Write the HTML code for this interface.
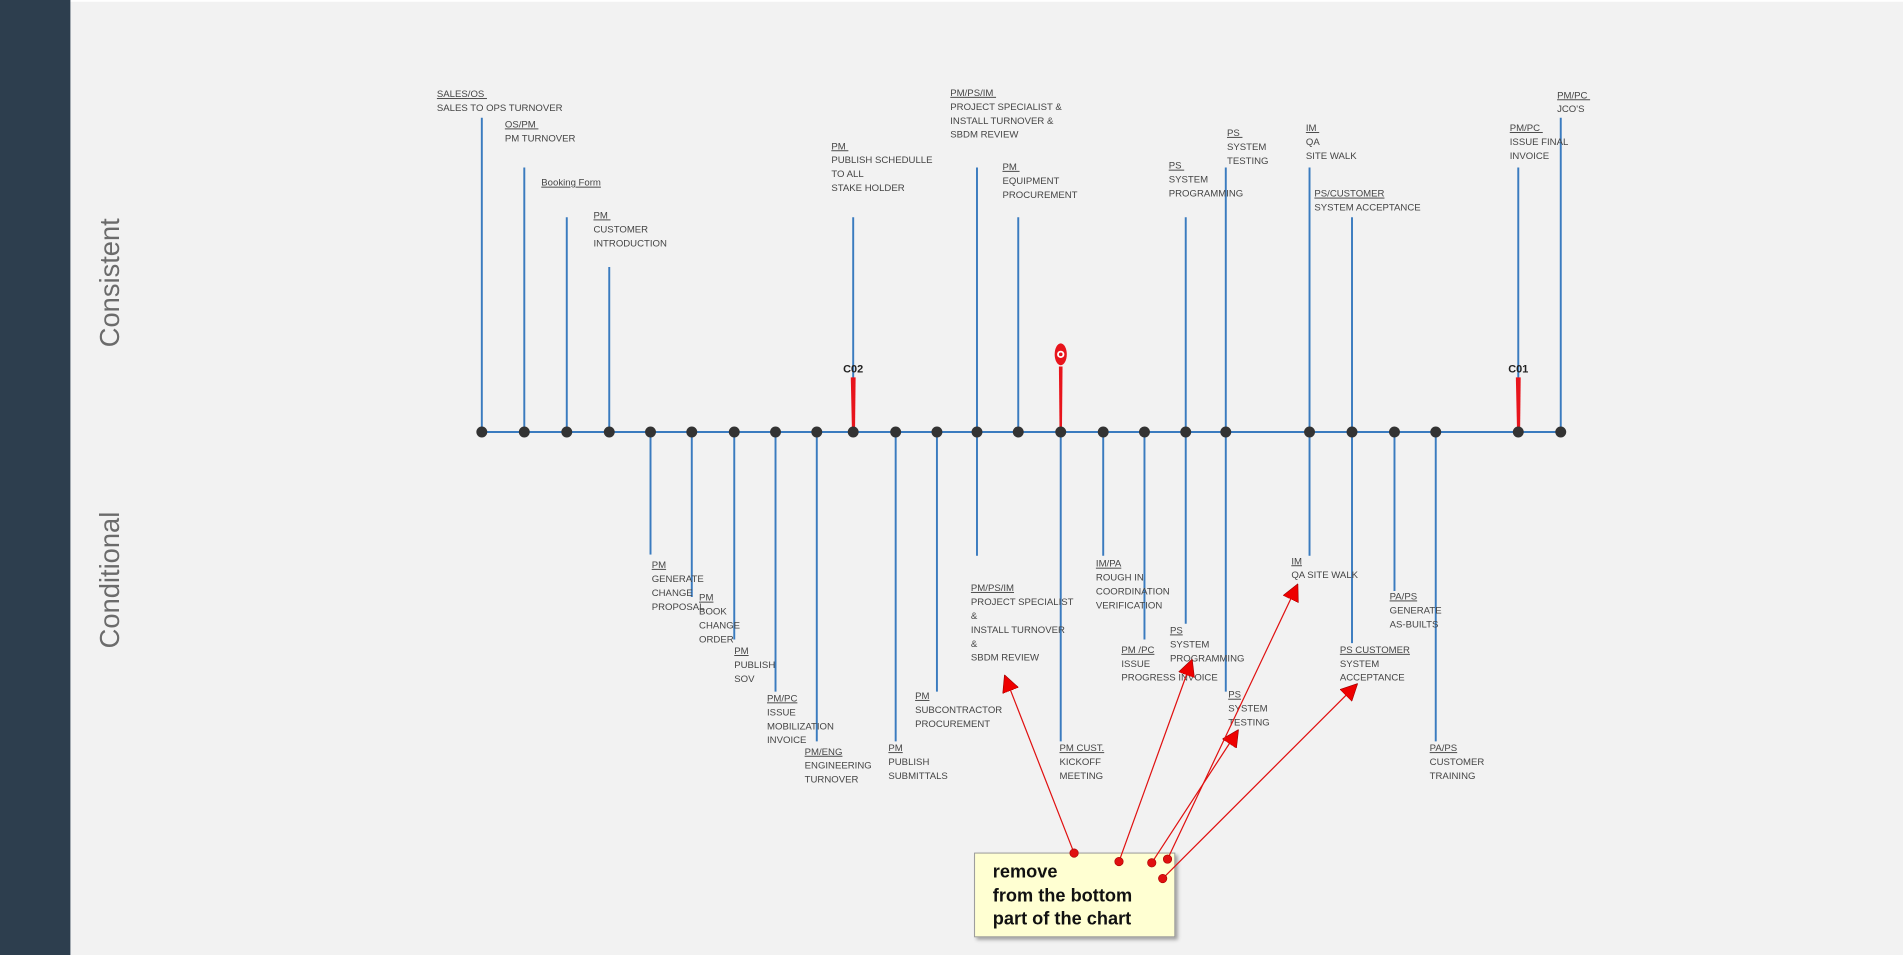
<!DOCTYPE html>
<html><head><meta charset="utf-8"><style>
html,body{margin:0;padding:0;background:#f2f2f2;width:1903px;height:955px;overflow:hidden}
svg{display:block}
.t{font-family:"Liberation Sans",sans-serif;font-size:7.9px;fill:#444}
.u{text-decoration:underline}
.side{font-family:"Liberation Sans",sans-serif;font-size:22.5px;fill:#6b6b6b}
.note{font-family:"Liberation Sans",sans-serif;font-size:15px;font-weight:bold;fill:#111}
</style></head><body>
<svg width="1903" height="955" viewBox="0 0 1568 787" preserveAspectRatio="none">
<defs>
<marker id="ah" markerWidth="14" markerHeight="14" refX="13" refY="7" orient="auto" markerUnits="userSpaceOnUse" viewBox="0 0 14 14"><path d="M0,0 L14,7 L0,14 z" fill="#e00" stroke="#900" stroke-width="0.5"/></marker>
<filter id="sh"><feDropShadow dx="2" dy="2" stdDeviation="1.5" flood-opacity="0.35"/></filter>
</defs>
<rect x="0" y="0" width="1568" height="787" fill="#f2f2f2"/>
<rect x="58" y="0" width="1510" height="1.5" fill="#fff"/>
<rect x="0" y="0" width="58" height="787" fill="#2d3e4e"/>
<text class="side" transform="translate(98,233) rotate(-90)" text-anchor="middle">Consistent</text>
<text class="side" transform="translate(98,478) rotate(-90)" text-anchor="middle">Conditional</text>

<g stroke="#3a7bbf" stroke-width="1.6">
<line x1="397" y1="356" x2="1286" y2="356"/>
<line x1="397" y1="97" x2="397" y2="356"/>
<line x1="432" y1="138" x2="432" y2="356"/>
<line x1="467" y1="179" x2="467" y2="356"/>
<line x1="502" y1="220" x2="502" y2="356"/>
<line x1="703" y1="179" x2="703" y2="356"/>
<line x1="805" y1="138" x2="805" y2="356"/>
<line x1="839" y1="179" x2="839" y2="356"/>
<line x1="977" y1="179" x2="977" y2="356"/>
<line x1="1010" y1="138" x2="1010" y2="356"/>
<line x1="1079" y1="138" x2="1079" y2="356"/>
<line x1="1114" y1="179" x2="1114" y2="356"/>
<line x1="1251" y1="138" x2="1251" y2="356"/>
<line x1="1286" y1="97" x2="1286" y2="356"/>
<line x1="536" y1="356" x2="536" y2="457"/>
<line x1="570" y1="356" x2="570" y2="492"/>
<line x1="605" y1="356" x2="605" y2="527"/>
<line x1="639" y1="356" x2="639" y2="570"/>
<line x1="673" y1="356" x2="673" y2="611"/>
<line x1="738" y1="356" x2="738" y2="611"/>
<line x1="772" y1="356" x2="772" y2="570"/>
<line x1="805" y1="356" x2="805" y2="458"/>
<line x1="874" y1="356" x2="874" y2="611"/>
<line x1="909" y1="356" x2="909" y2="458"/>
<line x1="943" y1="356" x2="943" y2="527"/>
<line x1="977" y1="356" x2="977" y2="514"/>
<line x1="1010" y1="356" x2="1010" y2="570"/>
<line x1="1079" y1="356" x2="1079" y2="458"/>
<line x1="1114" y1="356" x2="1114" y2="530"/>
<line x1="1149" y1="356" x2="1149" y2="487"/>
<line x1="1183" y1="356" x2="1183" y2="611"/>
</g>

<path d="M701,311 L705,311 L704.5,356 L702,356 z" fill="#e8141c"/>
<text x="703" y="307" font-family="Liberation Sans" font-size="9" font-weight="bold" text-anchor="middle" fill="#222">C02</text>
<path d="M1249,311 L1253,311 L1252.5,356 L1250,356 z" fill="#e8141c"/>
<text x="1251" y="307" font-family="Liberation Sans" font-size="9" font-weight="bold" text-anchor="middle" fill="#222">C01</text>
<path d="M872.5,302 L875.5,302 L875,356 L873,356 z" fill="#e8141c"/>
<ellipse cx="874" cy="292" rx="5" ry="9" fill="#e8141c"/>
<circle cx="874" cy="292" r="3" fill="#fff"/>
<circle cx="874" cy="292" r="1.5" fill="#e8141c"/>

<g fill="#333">
<circle cx="397" cy="356" r="4.5"/><circle cx="432" cy="356" r="4.5"/><circle cx="467" cy="356" r="4.5"/><circle cx="502" cy="356" r="4.5"/><circle cx="536" cy="356" r="4.5"/><circle cx="570" cy="356" r="4.5"/><circle cx="605" cy="356" r="4.5"/><circle cx="639" cy="356" r="4.5"/><circle cx="673" cy="356" r="4.5"/><circle cx="703" cy="356" r="4.5"/><circle cx="738" cy="356" r="4.5"/><circle cx="772" cy="356" r="4.5"/><circle cx="805" cy="356" r="4.5"/><circle cx="839" cy="356" r="4.5"/><circle cx="874" cy="356" r="4.5"/><circle cx="909" cy="356" r="4.5"/><circle cx="943" cy="356" r="4.5"/><circle cx="977" cy="356" r="4.5"/><circle cx="1010" cy="356" r="4.5"/><circle cx="1079" cy="356" r="4.5"/><circle cx="1114" cy="356" r="4.5"/><circle cx="1149" cy="356" r="4.5"/><circle cx="1183" cy="356" r="4.5"/><circle cx="1251" cy="356" r="4.5"/><circle cx="1286" cy="356" r="4.5"/>
</g>

<g class="t">
<text x="360" y="80"><tspan class="u">SALES/OS </tspan><tspan x="360" dy="11.5">SALES TO OPS TURNOVER</tspan></text>
<text x="416" y="105"><tspan class="u">OS/PM </tspan><tspan x="416" dy="11.5">PM TURNOVER</tspan></text>
<text x="446" y="153"><tspan class="u">Booking Form </tspan></text>
<text x="489" y="180"><tspan class="u">PM </tspan><tspan x="489" dy="11.5">CUSTOMER</tspan><tspan x="489" dy="11.5">INTRODUCTION</tspan></text>
<text x="685" y="123"><tspan class="u">PM </tspan><tspan x="685" dy="11.5">PUBLISH SCHEDULLE</tspan><tspan x="685" dy="11.5">TO ALL</tspan><tspan x="685" dy="11.5">STAKE HOLDER</tspan></text>
<text x="783" y="79"><tspan class="u">PM/PS/IM </tspan><tspan x="783" dy="11.5">PROJECT SPECIALIST &amp;</tspan><tspan x="783" dy="11.5">INSTALL TURNOVER &amp;</tspan><tspan x="783" dy="11.5">SBDM REVIEW</tspan></text>
<text x="826" y="140"><tspan class="u">PM </tspan><tspan x="826" dy="11.5">EQUIPMENT</tspan><tspan x="826" dy="11.5">PROCUREMENT</tspan></text>
<text x="963" y="139"><tspan class="u">PS </tspan><tspan x="963" dy="11.5">SYSTEM</tspan><tspan x="963" dy="11.5">PROGRAMMING</tspan></text>
<text x="1011" y="112"><tspan class="u">PS </tspan><tspan x="1011" dy="11.5">SYSTEM</tspan><tspan x="1011" dy="11.5">TESTING</tspan></text>
<text x="1076" y="108"><tspan class="u">IM </tspan><tspan x="1076" dy="11.5">QA</tspan><tspan x="1076" dy="11.5">SITE WALK</tspan></text>
<text x="1083" y="162"><tspan class="u">PS/CUSTOMER</tspan><tspan x="1083" dy="11.5">SYSTEM ACCEPTANCE</tspan></text>
<text x="1244" y="108"><tspan class="u">PM/PC </tspan><tspan x="1244" dy="11.5">ISSUE FINAL</tspan><tspan x="1244" dy="11.5">INVOICE</tspan></text>
<text x="1283" y="81"><tspan class="u">PM/PC </tspan><tspan x="1283" dy="11.5">JCO'S</tspan></text>

<text x="537" y="468"><tspan class="u">PM</tspan><tspan x="537" dy="11.5">GENERATE</tspan><tspan x="537" dy="11.5">CHANGE</tspan><tspan x="537" dy="11.5">PROPOSAL</tspan></text>
<text x="576" y="495"><tspan class="u">PM</tspan><tspan x="576" dy="11.5">BOOK</tspan><tspan x="576" dy="11.5">CHANGE</tspan><tspan x="576" dy="11.5">ORDER</tspan></text>
<text x="605" y="539"><tspan class="u">PM</tspan><tspan x="605" dy="11.5">PUBLISH</tspan><tspan x="605" dy="11.5">SOV</tspan></text>
<text x="632" y="578"><tspan class="u">PM/PC</tspan><tspan x="632" dy="11.5">ISSUE</tspan><tspan x="632" dy="11.5">MOBILIZATION</tspan><tspan x="632" dy="11.5">INVOICE</tspan></text>
<text x="663" y="622"><tspan class="u">PM/ENG</tspan><tspan x="663" dy="11.5">ENGINEERING</tspan><tspan x="663" dy="11.5">TURNOVER</tspan></text>
<text x="732" y="619"><tspan class="u">PM</tspan><tspan x="732" dy="11.5">PUBLISH</tspan><tspan x="732" dy="11.5">SUBMITTALS</tspan></text>
<text x="754" y="576"><tspan class="u">PM</tspan><tspan x="754" dy="11.5">SUBCONTRACTOR</tspan><tspan x="754" dy="11.5">PROCUREMENT</tspan></text>
<text x="800" y="487"><tspan class="u">PM/PS/IM</tspan><tspan x="800" dy="11.5">PROJECT SPECIALIST</tspan><tspan x="800" dy="11.5">&amp;</tspan><tspan x="800" dy="11.5">INSTALL TURNOVER</tspan><tspan x="800" dy="11.5">&amp;</tspan><tspan x="800" dy="11.5">SBDM REVIEW</tspan></text>
<text x="873" y="619"><tspan class="u">PM CUST.</tspan><tspan x="873" dy="11.5">KICKOFF</tspan><tspan x="873" dy="11.5">MEETING</tspan></text>
<text x="903" y="467"><tspan class="u">IM/PA</tspan><tspan x="903" dy="11.5">ROUGH IN</tspan><tspan x="903" dy="11.5">COORDINATION</tspan><tspan x="903" dy="11.5">VERIFICATION</tspan></text>
<text x="924" y="538"><tspan class="u">PM /PC</tspan><tspan x="924" dy="11.5">ISSUE</tspan><tspan x="924" dy="11.5">PROGRESS INVOICE</tspan></text>
<text x="964" y="522"><tspan class="u">PS</tspan><tspan x="964" dy="11.5">SYSTEM</tspan><tspan x="964" dy="11.5">PROGRAMMING</tspan></text>
<text x="1012" y="575"><tspan class="u">PS</tspan><tspan x="1012" dy="11.5">SYSTEM</tspan><tspan x="1012" dy="11.5">TESTING</tspan></text>
<text x="1064" y="465"><tspan class="u">IM</tspan><tspan x="1064" dy="11.5">QA SITE WALK</tspan></text>
<text x="1104" y="538"><tspan class="u">PS CUSTOMER</tspan><tspan x="1104" dy="11.5">SYSTEM</tspan><tspan x="1104" dy="11.5">ACCEPTANCE</tspan></text>
<text x="1145" y="494"><tspan class="u">PA/PS</tspan><tspan x="1145" dy="11.5">GENERATE</tspan><tspan x="1145" dy="11.5">AS-BUILTS</tspan></text>
<text x="1178" y="619"><tspan class="u">PA/PS</tspan><tspan x="1178" dy="11.5">CUSTOMER</tspan><tspan x="1178" dy="11.5">TRAINING</tspan></text>
</g>

<rect x="803" y="703" width="165" height="69" fill="#ffffd2" stroke="#999" stroke-width="0.8" filter="url(#sh)"/>
<text class="note" x="818" y="723">remove</text>
<text class="note" x="818" y="743">from the bottom</text>
<text class="note" x="818" y="762">part of the chart</text>

<g stroke="#e01010" stroke-width="1" fill="none">
<line x1="885" y1="703" x2="828" y2="557" marker-end="url(#ah)"/>
<line x1="922" y1="710" x2="982" y2="544" marker-end="url(#ah)"/>
<line x1="949" y1="711" x2="1020" y2="602" marker-end="url(#ah)"/>
<line x1="962" y1="708" x2="1069" y2="482" marker-end="url(#ah)"/>
<line x1="958" y1="724" x2="1118" y2="564" marker-end="url(#ah)"/>
</g>
<g fill="#e01010" stroke="#a00" stroke-width="0.5">
<circle cx="885" cy="703" r="3.5"/><circle cx="922" cy="710" r="3.5"/><circle cx="949" cy="711" r="3.5"/><circle cx="962" cy="708" r="3.5"/><circle cx="958" cy="724" r="3.5"/>
</g>
</svg>
</body></html>
